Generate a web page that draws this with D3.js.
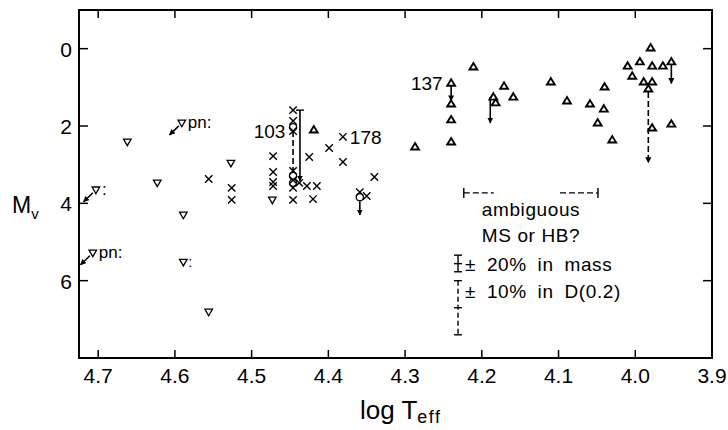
<!DOCTYPE html>
<html lang="en">
<head>
<meta charset="UTF-8">
<title>HR diagram</title>
<style>
  body { margin: 0; background: #fff; }
  svg { display: block; font-family: "Liberation Sans", Arial, sans-serif; }
  .frame { fill: none; stroke: #000; stroke-width: 2; }
  .tick { stroke: #000; stroke-width: 1.5; }
  .lbl { font-size: 21px; fill: #000; }
</style>
</head>
<body>
<svg id="chart" width="728" height="430"></svg>
<script src="https://d3js.org/d3.v7.min.js"></script>
<script>
// [log Teff, Mv]
const triUp = [[4.419, 2.10], [4.287, 2.54], [4.240, 0.89], [4.240, 1.43], [4.240, 1.84], [4.240, 2.41],
  [4.211, 0.47], [4.185, 1.25], [4.182, 1.40], [4.171, 0.97], [4.159, 1.25], [4.110, 0.86], [4.089, 1.35],
  [4.059, 1.43], [4.040, 0.99], [4.041, 1.56], [4.049, 1.92], [4.030, 2.36], [4.010, 0.45], [4.004, 0.71],
  [3.994, 0.34], [3.980, -0.02], [3.978, 0.45], [3.964, 0.45], [3.953, 0.34], [3.989, 0.86], [3.978, 0.86],
  [3.983, 1.04], [3.978, 2.05], [3.953, 1.95]];
const triDown = [[4.662, 2.41], [4.591, 1.92], [4.623, 3.47], [4.527, 2.96], [4.589, 4.30], [4.703, 3.65],
  [4.707, 5.28], [4.589, 5.52], [4.556, 6.81], [4.473, 3.91]];
const crosses = [[4.556, 3.37], [4.526, 3.60], [4.526, 3.91], [4.472, 2.78], [4.472, 3.19], [4.472, 3.45],
  [4.472, 3.55], [4.446, 1.59], [4.446, 1.87], [4.446, 2.13], [4.446, 3.16], [4.446, 3.40], [4.446, 3.60],
  [4.446, 3.91], [4.438, 3.47], [4.425, 2.80], [4.428, 3.55], [4.415, 3.55], [4.420, 3.89], [4.399, 2.57],
  [4.381, 2.28], [4.381, 2.93], [4.340, 3.32], [4.359, 3.71], [4.350, 3.81]];
const circles = [[4.446, 2.03], [4.446, 3.29], [4.446, 3.47], [4.359, 3.84]];

const xTicks = [4.7, 4.6, 4.5, 4.4, 4.3, 4.2, 4.1, 4.0, 3.9];
const yTicks = [0, 2, 4, 6];

// vertical arrows [log Teff, Mv from, Mv to]
const solidArrows = [[4.240, 0.97, 1.35], [4.189, 1.25, 1.92], [3.953, 0.42, 0.90], [4.359, 3.95, 4.30], [4.437, 1.59, 3.42]];
const dashedArrows = [[3.983, 1.12, 2.95]];
const dashedLines = [[4.446, 2.13, 3.16]];
// planetary nebula nuclei [log Teff, Mv, tag]
const pnStars = [[4.591, 1.92, "pn:"], [4.703, 3.65, ":"], [4.707, 5.28, "pn:"]];
const colonStars = [[4.589, 5.52]];
const starLabels = [["103", 4.456, 2.13, "end"], ["178", 4.372, 2.28, "start"], ["137", 4.251, 0.89, "end"]];

// ambiguous MS / HB bracket and error bars
const bracket = [4.2235, 4.0486, 3.73];
const massBar = [4.231, 5.34, 5.56, 5.77];
const distBar = [4.231, 6.00, 6.70, 7.40];

const svg = d3.select("#chart");
const mLeft = 79, mRight = 712, mTop = 10, mBottom = 358;

const x = d3.scaleLinear().domain([4.725, 3.9]).range([mLeft, mRight]);
const y = d3.scaleLinear().domain([-1, 8]).range([mTop, mBottom]);

const defs = svg.append("defs");
defs.append("marker").attr("id", "head")
  .attr("viewBox", "0 0 10 10").attr("refX", 9).attr("refY", 5)
  .attr("markerWidth", 6).attr("markerHeight", 6).attr("orient", "auto-start-reverse")
  .attr("markerUnits", "userSpaceOnUse")
  .append("path").attr("d", "M0,0 L10,5 L0,10 z").attr("fill", "#000");

// frame
svg.append("rect").attr("class", "frame")
  .attr("x", mLeft).attr("y", mTop).attr("width", mRight - mLeft).attr("height", mBottom - mTop);

// ticks
xTicks.slice(0, -1).forEach(t => {
  svg.append("line").attr("class", "tick").attr("x1", x(t)).attr("x2", x(t)).attr("y1", mTop).attr("y2", mTop + 8);
  svg.append("line").attr("class", "tick").attr("x1", x(t)).attr("x2", x(t)).attr("y1", mBottom).attr("y2", mBottom - 8);
});
yTicks.forEach(t => {
  svg.append("line").attr("class", "tick").attr("x1", mLeft).attr("x2", mLeft + 9).attr("y1", y(t)).attr("y2", y(t));
  svg.append("line").attr("class", "tick").attr("x1", mRight).attr("x2", mRight - 9).attr("y1", y(t)).attr("y2", y(t));
});

svg.selectAll(".xl").data(xTicks).enter().append("text").attr("class", "lbl")
  .attr("x", d => x(d)).attr("y", mBottom + 25).attr("text-anchor", "middle")
  .text(d => d.toFixed(1));
svg.selectAll(".yl").data(yTicks).enter().append("text").attr("class", "lbl")
  .attr("x", mLeft - 7).attr("y", d => y(d) + 8).attr("text-anchor", "end")
  .text(d => d);

// axis titles
const xt = svg.append("text").attr("x", 360).attr("y", 419).attr("font-size", 26);
xt.append("tspan").text("log T");
xt.append("tspan").attr("font-size", 18).attr("dy", 4).attr("letter-spacing", 1.5).text("eff");
const yt = svg.append("text").attr("x", 12).attr("y", 213).attr("font-size", 23);
yt.append("tspan").text("M");
yt.append("tspan").attr("font-size", 15).attr("dy", 6).text("v");

// symbols
const up = "M0,-3.8 L3.9,2.6 L-3.9,2.6 Z";
const down = "M0,3.8 L3.8,-2.8 L-3.8,-2.8 Z";
svg.selectAll(".up").data(triUp).enter().append("path")
  .attr("d", up).attr("transform", d => `translate(${x(d[0])},${y(d[1])})`)
  .attr("fill", "#fff").attr("stroke", "#000").attr("stroke-width", 1.9);
svg.selectAll(".down").data(triDown).enter().append("path")
  .attr("d", down).attr("transform", d => `translate(${x(d[0])},${y(d[1])})`)
  .attr("fill", "#fff").attr("stroke", "#000").attr("stroke-width", 1.3);
svg.selectAll(".cross").data(crosses).enter().append("path")
  .attr("d", "M-3.7,-3.7 L3.7,3.7 M-3.7,3.7 L3.7,-3.7")
  .attr("transform", d => `translate(${x(d[0])},${y(d[1])})`)
  .attr("stroke", "#000").attr("stroke-width", 1.4);
svg.selectAll(".circ").data(circles).enter().append("circle")
  .attr("cx", d => x(d[0])).attr("cy", d => y(d[1])).attr("r", 3.6)
  .attr("fill", "none").attr("stroke", "#000").attr("stroke-width", 1.3);

// arrows
svg.selectAll(".sa").data(solidArrows).enter().append("line")
  .attr("x1", d => x(d[0])).attr("x2", d => x(d[0])).attr("y1", d => y(d[1])).attr("y2", d => y(d[2]))
  .attr("stroke", "#000").attr("stroke-width", 1.6).attr("marker-end", "url(#head)");
svg.selectAll(".da").data(dashedArrows).enter().append("line")
  .attr("x1", d => x(d[0])).attr("x2", d => x(d[0])).attr("y1", d => y(d[1])).attr("y2", d => y(d[2]))
  .attr("stroke", "#000").attr("stroke-width", 1.6).attr("stroke-dasharray", "6,3").attr("marker-end", "url(#head)");
svg.selectAll(".dl").data(dashedLines).enter().append("line")
  .attr("x1", d => x(d[0])).attr("x2", d => x(d[0])).attr("y1", d => y(d[1])).attr("y2", d => y(d[2]))
  .attr("stroke", "#000").attr("stroke-width", 1.6).attr("stroke-dasharray", "6,3");
// cap on the 103 solid line
svg.append("line").attr("x1", x(4.437) - 4).attr("x2", x(4.437) + 4)
  .attr("y1", y(1.59)).attr("y2", y(1.59)).attr("stroke", "#000").attr("stroke-width", 1.4);

// pn arrows, pointing down-left
pnStars.forEach(d => {
  svg.append("line").attr("x1", x(d[0]) - 3).attr("y1", y(d[1]) + 3)
    .attr("x2", x(d[0] + 0.016)).attr("y2", y(d[1] + 0.31))
    .attr("stroke", "#000").attr("stroke-width", 1.5).attr("marker-end", "url(#head)");
  svg.append("text").attr("x", x(d[0]) + 6).attr("y", y(d[1]) + 5)
    .attr("font-size", 17).text(d[2]);
});
colonStars.forEach(d => {
  svg.append("text").attr("x", x(d[0]) + 5).attr("y", y(d[1]) + 5).attr("font-size", 14).text(":");
});

svg.selectAll(".sl").data(starLabels).enter().append("text")
  .attr("x", d => x(d[1])).attr("y", d => y(d[2]) + 7)
  .attr("text-anchor", d => d[3]).attr("font-size", 19).text(d => d[0]);

// bracket
const by = y(bracket[2]), bx1 = x(bracket[0]), bx2 = x(bracket[1]);
svg.append("line").attr("x1", bx1).attr("x2", bx1).attr("y1", by - 5).attr("y2", by + 5).attr("stroke", "#000").attr("stroke-width", 1.4);
svg.append("line").attr("x1", bx2).attr("x2", bx2).attr("y1", by - 5).attr("y2", by + 5).attr("stroke", "#000").attr("stroke-width", 1.4);
svg.append("line").attr("x1", bx1).attr("x2", bx1 + 30).attr("y1", by).attr("y2", by)
  .attr("stroke", "#000").attr("stroke-width", 1.3).attr("stroke-dasharray", "6,3");
svg.append("line").attr("x1", bx2 - 38).attr("x2", bx2).attr("y1", by).attr("y2", by)
  .attr("stroke", "#000").attr("stroke-width", 1.3).attr("stroke-dasharray", "6,3");

svg.append("text").attr("x", 531).attr("y", 216).attr("text-anchor", "middle")
  .attr("font-size", 19).attr("letter-spacing", 0.6).text("ambiguous");
svg.append("text").attr("x", 531).attr("y", 242).attr("text-anchor", "middle")
  .attr("font-size", 19).attr("letter-spacing", 0.6).text("MS or HB?");

// error bars
function errBar(b, dashed) {
  const bx = x(b[0]);
  svg.append("line").attr("x1", bx).attr("x2", bx).attr("y1", y(b[1])).attr("y2", y(b[3]))
    .attr("stroke", "#000").attr("stroke-width", 1.4).attr("stroke-dasharray", dashed ? "5,3" : null);
  [b[1], b[2], b[3]].forEach(v => {
    svg.append("line").attr("x1", bx - 4).attr("x2", bx + 4).attr("y1", y(v)).attr("y2", y(v))
      .attr("stroke", "#000").attr("stroke-width", 1.4);
  });
}
errBar(massBar, false);
errBar(distBar, true);
svg.append("text").attr("x", 465).attr("y", 271).attr("font-size", 19)
  .attr("letter-spacing", 0.6).attr("word-spacing", 5).text("± 20% in mass");
svg.append("text").attr("x", 465).attr("y", 298).attr("font-size", 19)
  .attr("letter-spacing", 0.6).attr("word-spacing", 5).text("± 10% in D(0.2)");
</script>
</body>
</html>
